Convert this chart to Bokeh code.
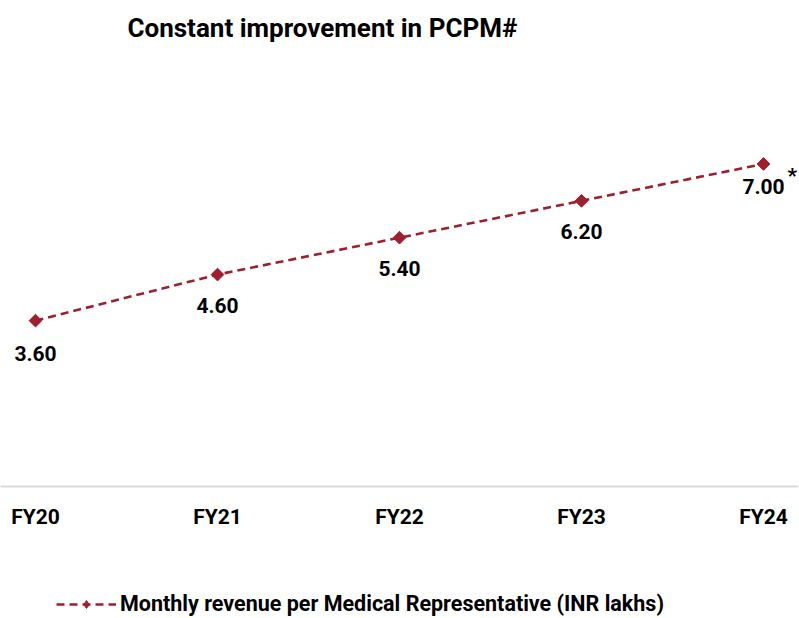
import math
from bokeh.plotting import figure
from bokeh.layouts import column
from bokeh.models import Legend, LegendItem, Label, ColumnDataSource, FixedTicker
from bokeh.embed import file_html
from bokeh.resources import INLINE
from bokeh.core.properties import value

years = ["FY20", "FY21", "FY22", "FY23", "FY24"]
pcpm = [3.60, 4.60, 5.40, 6.20, 7.00]
title_text = "Constant improvement in PCPM#"
series_name = "Monthly revenue per Medical Representative (INR lakhs)"

RED = "#9E1F2E"
FONT = "Roboto"

xs = list(range(len(years)))
labels = ["%.2f" % v for v in pcpm]
yoff = [33, 31, 31, 31, 23]
src = ColumnDataSource(dict(x=xs, y=pcpm, lab=labels, yoff=yoff))

p = figure(width=798, height=560, output_backend="svg", toolbar_location=None,
           x_range=(-0.1923, 4.1923), y_range=(0, 9.398),
           min_border_left=0, min_border_right=0, min_border_top=52, min_border_bottom=74)
p.outline_line_color = None
p.grid.visible = False
p.yaxis.visible = False
p.background_fill_color = "white"
p.border_fill_color = "white"

p.title.text = title_text
p.title.text_font = FONT
p.title.text_font_style = "bold"
p.title.text_font_size = "26px"
p.title.offset = 127
p.title.standoff = 21
p.title.text_color = "#000000"

p.line("x", "y", source=src, line_color=RED, line_width=2.6, line_dash="8 5")
p.scatter("x", "y", source=src, marker="square", angle=math.pi / 4, size=9,
          fill_color=RED, line_color=RED)

p.text("x", "y", text="lab", source=src, y_offset="yoff", text_align="center",
       text_baseline="middle", text_font=value(FONT), text_font_style="bold",
       text_font_size="21px", text_color="#000000")

p.add_layout(Label(x=xs[-1], y=pcpm[-1], text="*", x_offset=24, y_offset=-24,
                   text_font=FONT, text_font_style="bold", text_font_size="21px",
                   text_color="#000000"))

p.xaxis.ticker = FixedTicker(ticks=xs)
p.xaxis.major_label_overrides = {i: y for i, y in enumerate(years)}
p.xaxis.axis_line_color = "#D9D9D9"
p.xaxis.axis_line_width = 2
p.xaxis.major_tick_line_color = None
p.xaxis.minor_tick_line_color = None
p.xaxis.major_label_standoff = 12
p.xaxis.major_label_text_font = FONT
p.xaxis.major_label_text_font_style = "bold"
p.xaxis.major_label_text_font_size = "21px"
p.xaxis.major_label_text_color = "#000000"

# legend strip (same series drawn outside its visible range, so only the legend shows)
q = figure(width=798, height=57, output_backend="svg", toolbar_location=None,
           x_range=(100, 101), y_range=(100, 101), min_border=0)
q.outline_line_color = None
q.grid.visible = False
q.axis.visible = False
lr = q.line("x", "y", source=src, line_color=RED, line_width=2.6, line_dash="8 5")
mr = q.scatter("x", "y", source=src, marker="diamond", size=13,
               fill_color=RED, line_color=RED)
legend = Legend(items=[LegendItem(label=series_name, renderers=[lr, mr])],
                location=(56, 1), orientation="horizontal",
                glyph_width=60, glyph_height=20, label_standoff=4,
                label_text_font=FONT, label_text_font_style="bold",
                label_text_font_size="21.5px", label_text_color="#000000",
                border_line_color=None, background_fill_alpha=0, padding=0, margin=0)
q.add_layout(legend)

open("out.html", "w").write(file_html(column(p, q, spacing=0), INLINE))
